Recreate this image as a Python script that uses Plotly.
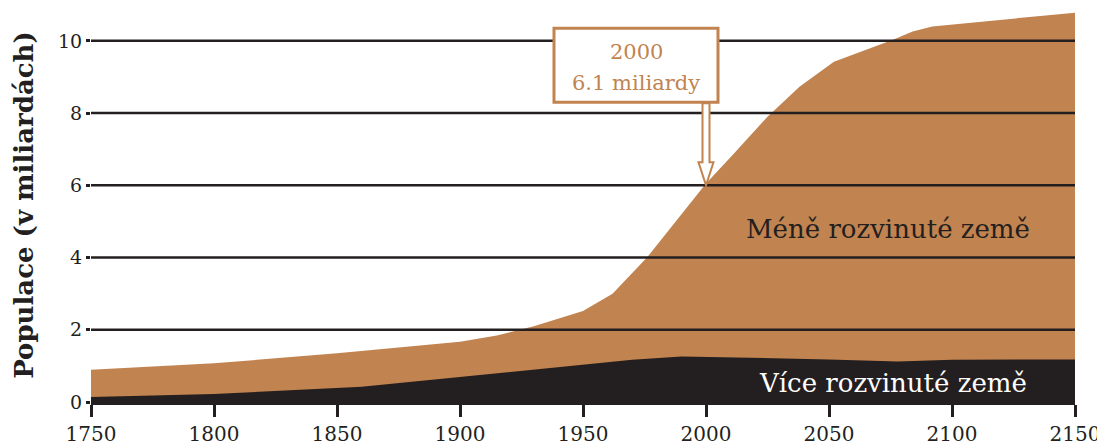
import plotly.graph_objects as go

# ---- data ----
years_total = [1750, 1800, 1850, 1900, 1915, 1930, 1950, 1962, 1976, 2000, 2011, 2025, 2038, 2052, 2076, 2084, 2092, 2150]
world_total = [0.89, 1.07, 1.35, 1.67, 1.84, 2.10, 2.52, 3.00, 4.00, 6.05, 6.85, 7.90, 8.73, 9.42, 10.03, 10.26, 10.40, 10.78]

years_more = [1750, 1800, 1860, 1900, 1950, 1970, 1990, 2000, 2050, 2078, 2100, 2150]
more_developed = [0.14, 0.22, 0.42, 0.70, 1.03, 1.17, 1.26, 1.25, 1.18, 1.12, 1.17, 1.18]

x_ticks = [1750, 1800, 1850, 1900, 1950, 2000, 2050, 2100, 2150]
y_ticks = [0, 2, 4, 6, 8, 10]
grid_values = [2, 4, 6, 8, 10]

label_less = "Méně rozvinuté země"
label_more = "Více rozvinuté země"
callout_year = 2000
callout_value = 6.0
callout_lines = ["2000", "6.1 miliardy"]
y_title = "Populace (v miliardách)"

BROWN = "#C1834F"
DARK = "#231F20"
FONT = "DejaVu Serif"

fig = go.Figure()
fig.add_trace(go.Scatter(x=years_total, y=world_total, mode="lines", fill="tozeroy",
                         line=dict(width=0, color=BROWN), fillcolor=BROWN,
                         hoverinfo="skip", showlegend=False))
fig.add_trace(go.Scatter(x=years_more, y=more_developed, mode="lines", fill="tozeroy",
                         line=dict(width=0, color=DARK), fillcolor=DARK,
                         hoverinfo="skip", showlegend=False))

shapes = []
for g in grid_values:
    shapes.append(dict(type="line", xref="paper", x0=0, x1=1, yref="y", y0=g, y1=g,
                       line=dict(color=DARK, width=2.5), layer="above"))

# callout box (pixel sized, anchored at the data point)
shapes.append(dict(type="rect", xref="x", yref="y",
                   xsizemode="pixel", ysizemode="pixel",
                   xanchor=callout_year, yanchor=callout_value,
                   x0=-152, x1=12, y0=83, y1=157,
                   fillcolor="white", line=dict(color=BROWN, width=3), layer="above"))
# hollow arrow
shapes.append(dict(type="path", xref="x", yref="y",
                   xsizemode="pixel", ysizemode="pixel",
                   xanchor=callout_year, yanchor=callout_value,
                   path="M -3.5,82 L -3.5,23 L -7.5,23 L 0,0 L 7.5,23 L 3.5,23 L 3.5,82 Z",
                   fillcolor="white", line=dict(color=BROWN, width=2), layer="above"))

annotations = [
    dict(x=callout_year, y=callout_value, xref="x", yref="y", text=callout_lines[0],
         showarrow=False, xshift=-70, yshift=133, xanchor="center", yanchor="middle",
         font=dict(family=FONT, size=21, color=BROWN)),
    dict(x=callout_year, y=callout_value, xref="x", yref="y", text=callout_lines[1],
         showarrow=False, xshift=-70, yshift=102, xanchor="center", yanchor="middle",
         font=dict(family=FONT, size=21, color=BROWN)),
    dict(x=2073.8, y=4.79, xref="x", yref="y", text=label_less, showarrow=False,
         xanchor="center", yanchor="middle", font=dict(family=FONT, size=26, color=DARK)),
    dict(x=2076.2, y=0.53, xref="x", yref="y", text=label_more, showarrow=False,
         xanchor="center", yanchor="middle", font=dict(family=FONT, size=26, color="white")),
]

# the page body adds an 8px offset, so the figure is sized/margined to compensate
fig.update_layout(
    width=1097, height=440,
    margin=dict(l=83, r=30, t=0, b=46, autoexpand=False),
    plot_bgcolor="white", paper_bgcolor="white",
    shapes=shapes, annotations=annotations,
    showlegend=False,
)
fig.update_xaxes(range=[1750, 2150], tickvals=x_ticks, ticktext=[str(v) for v in x_ticks],
                 showgrid=False, zeroline=False, showline=True, linecolor=DARK, linewidth=3,
                 ticks="outside", ticklen=12, tickwidth=3, tickcolor=DARK, automargin=False,
                 tickfont=dict(family=FONT, size=20, color=DARK), layer="above traces")
fig.update_yaxes(range=[0, 10.91], tickvals=y_ticks, ticktext=[str(v) for v in y_ticks],
                 showgrid=False, zeroline=False, showline=False, automargin=False,
                 ticks="outside", ticklen=4, tickwidth=2.5, tickcolor=DARK,
                 tickfont=dict(family=FONT, size=19, color=DARK),
                 title=dict(text=y_title, standoff=16,
                            font=dict(family=FONT, size=26, color=DARK, weight="bold")))

fig.write_html("out.html")
